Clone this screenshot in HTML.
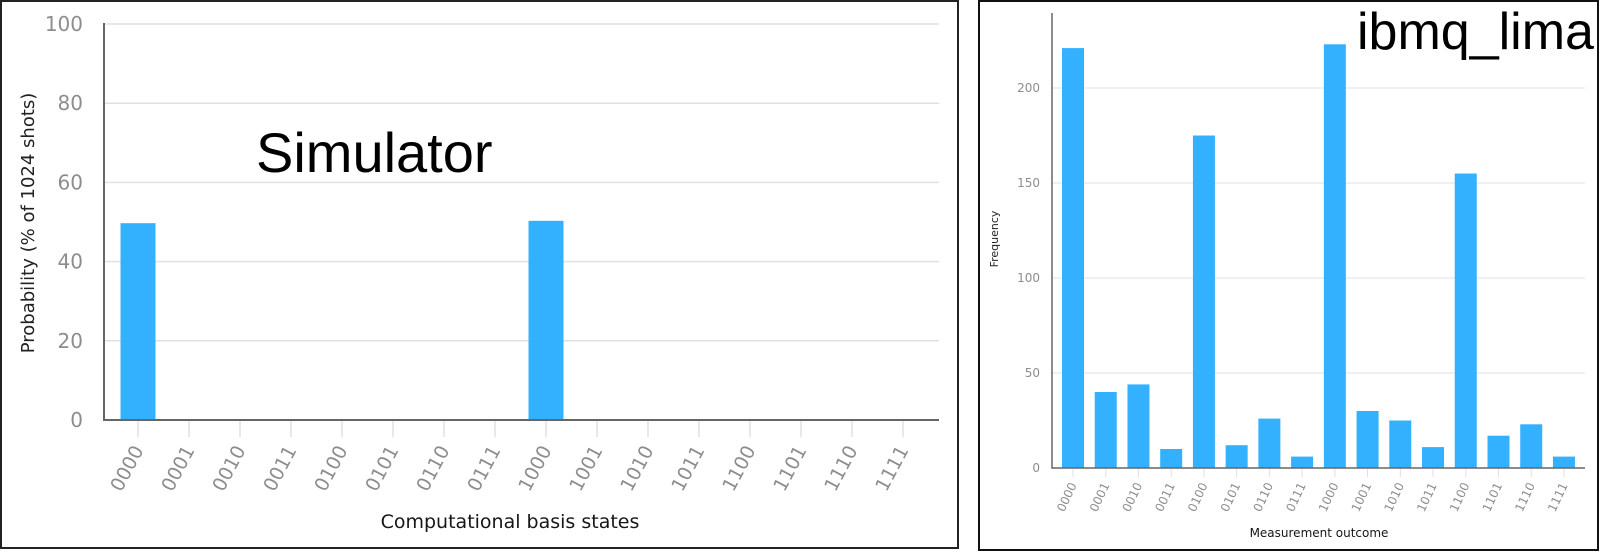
<!DOCTYPE html>
<html><head><meta charset="utf-8">
<style>
html,body{margin:0;padding:0;background:#fff;}
body{width:1600px;height:552px;overflow:hidden;}
svg text{font-family:"DejaVu Sans","Liberation Sans",sans-serif;}
</style></head>
<body>
<svg width="1600" height="552" xmlns="http://www.w3.org/2000/svg">
  <rect x="1" y="1" width="957" height="547" fill="none" stroke="#222" stroke-width="2"/>
  <rect x="979" y="1" width="619" height="549" fill="none" stroke="#111" stroke-width="2"/>
  <g id="left"></g>
  <g id="right"></g>
  <text x="256" y="172" font-size="56" fill="#000" style="font-family:'Liberation Sans',sans-serif">Simulator</text>
  <text x="1357" y="49" font-size="52" fill="#000" style="font-family:'Liberation Sans',sans-serif">ibmq_lima</text>
</svg>
<script>
const categories = ["0000","0001","0010","0011","0100","0101","0110","0111","1000","1001","1010","1011","1100","1101","1110","1111"];
const simValues = [49.7,0,0,0,0,0,0,0,50.3,0,0,0,0,0,0,0];
const simTicks = [0,20,40,60,80,100];
const limaValues = [221,40,44,10,175,12,26,6,223,30,25,11,155,17,23,6];
const limaTicks = [0,50,100,150,200];

const NS="http://www.w3.org/2000/svg";
function mk(tag,attrs,parent,txt){const e=document.createElementNS(NS,tag);for(const k in attrs)e.setAttribute(k,attrs[k]);if(txt!==undefined)e.textContent=txt;parent.appendChild(e);return e;}

function drawChart(g,cfg){
  const y=v=>cfg.y0-(v-cfg.vmin)/(cfg.vmax-cfg.vmin)*(cfg.y0-cfg.y1);
  const x=i=>cfg.xFirst+i*cfg.step;
  cfg.ticks.forEach(t=>{
    if(t>0){const l=mk('line',{x1:cfg.xl,x2:cfg.xr,y1:y(t),y2:y(t),stroke:'#e0e0e0','stroke-width':cfg.gw},g);
    
    }
    const tx=mk('text',{x:cfg.xl-cfg.tickPad,y:y(t)+cfg.tfs*0.35,'text-anchor':'end','font-size':cfg.tfs,fill:'#8d8d8d'},g,String(t));
    
    
  });
  cfg.values.forEach((v,i)=>{
    const r=mk('rect',{x:x(i)-cfg.bw/2,y:y(v),width:cfg.bw,height:cfg.y0-y(v),fill:'#33b1ff'},g);
    
    
    const tk=mk('line',{x1:x(i),x2:x(i),y1:cfg.y0,y2:cfg.y0+cfg.tickLen,stroke:'#e0e0e0','stroke-width':cfg.gw},g);
    
    
    const lx=x(i)+cfg.lblDx, ly=cfg.y0+cfg.lblDy;
    const lb=mk('text',{x:lx,y:ly,'text-anchor':'end','font-size':cfg.xfs,fill:'#8d8d8d',transform:`rotate(${cfg.rot} ${lx} ${ly})`},g,categories[i]);
    
    
  });
  const ax=mk('polyline',{points:`${cfg.xl},${cfg.axTop} ${cfg.xl},${cfg.y0} ${cfg.xr},${cfg.y0}`,fill:'none',stroke:'#666','stroke-width':cfg.aw},g);
  
  
}

const L=document.getElementById('left');
drawChart(L,{values:simValues,ticks:simTicks,vmin:0,vmax:100,y0:420,y1:24,xl:104,xr:939,xFirst:138,step:51,bw:35,tfs:20,xfs:19,tickPad:21,tickLen:17,lblDx:6,lblDy:30,rot:-62,gw:1.5,aw:2,axTop:23});
const R=document.getElementById('right');
drawChart(R,{values:limaValues,ticks:limaTicks,vmin:0,vmax:50,y0:468,y1:373,xl:1052,xr:1585,xFirst:1073,step:32.73,bw:22,tfs:12,xfs:12,tickPad:12,tickLen:9,lblDx:4,lblDy:17,rot:-65,gw:1,aw:1.5,axTop:13});

let t;
t=mk('text',{x:0,y:0,'text-anchor':'middle','font-size':18,fill:'#222',transform:'translate(34 223) rotate(-90)'},L,'Probability (% of 1024 shots)');


t=mk('text',{x:510,y:528,'text-anchor':'middle','font-size':19,fill:'#161616'},L,'Computational basis states');


t=mk('text',{x:0,y:0,'text-anchor':'middle','font-size':11,fill:'#222',transform:'translate(998 239) rotate(-90)'},R,'Frequency');


t=mk('text',{x:1319,y:537,'text-anchor':'middle','font-size':12,fill:'#161616'},R,'Measurement outcome');


</script>
</body></html>
